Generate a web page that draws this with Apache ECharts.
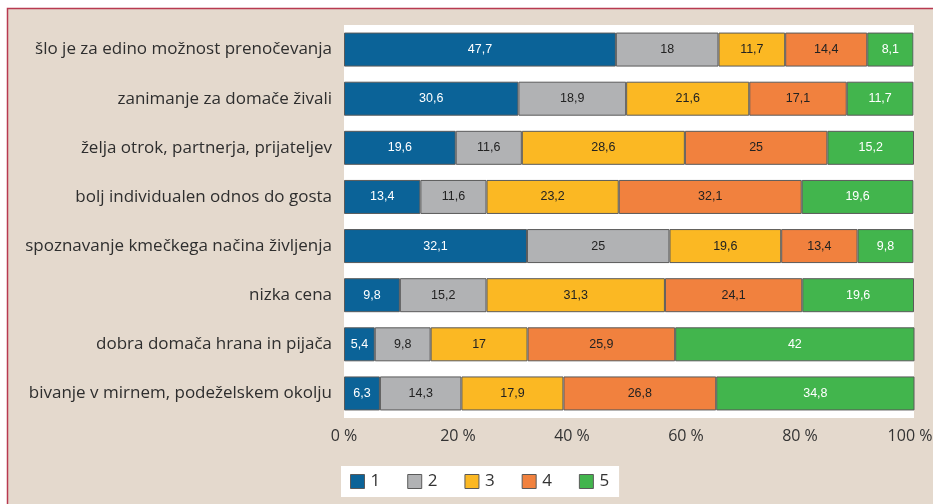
<!DOCTYPE html>
<html>
<head>
<meta charset="utf-8">
<script src="https://cdn.jsdelivr.net/npm/echarts@6/dist/echarts.min.js"></script>
<style>
  html, body { margin: 0; padding: 0; background: #ffffff; }
  #chart { width: 933px; height: 504px; }
</style>
</head>
<body>
<div id="chart"></div>
<script>
// Reasons for choosing the stay, rated 1–5 (share of respondents, %)
const categories = [
  'šlo je za edino možnost prenočevanja',
  'zanimanje za domače živali',
  'želja otrok, partnerja, prijateljev',
  'bolj individualen odnos do gosta',
  'spoznavanje kmečkega načina življenja',
  'nizka cena',
  'dobra domača hrana in pijača',
  'bivanje v mirnem, podeželskem okolju'
];
const seriesNames = ['1', '2', '3', '4', '5'];
const rating1 = [47.7, 30.6, 19.6, 13.4, 32.1, 9.8, 5.4, 6.3];
const rating2 = [18, 18.9, 11.6, 11.6, 25, 15.2, 9.8, 14.3];
const rating3 = [11.7, 21.6, 28.6, 23.2, 19.6, 31.3, 17, 17.9];
const rating4 = [14.4, 17.1, 25, 32.1, 13.4, 24.1, 25.9, 26.8];
const rating5 = [8.1, 11.7, 15.2, 19.6, 9.8, 19.6, 42, 34.8];
const xTicks = [0, 20, 40, 60, 80, 100];

const values = [rating1, rating2, rating3, rating4, rating5];
const colors = ['#0b6398', '#b1b2b4', '#fbb823', '#f1813e', '#42b54d'];
const labelColors = ['#ffffff', '#222222', '#222222', '#222222', '#ffffff'];

const chart = echarts.init(document.getElementById('chart'));

const series = seriesNames.map((name, i) => ({
  name: name,
  type: 'bar',
  stack: 'total',
  barWidth: 34,
  data: values[i],
  itemStyle: { color: colors[i], borderColor: '#5a5a5a', borderWidth: 1 },
  label: {
    show: true,
    position: 'inside',
    fontFamily: 'Liberation Sans, Arial, sans-serif',
    fontSize: 12.5,
    color: labelColors[i],
    formatter: p => String(p.value).replace('.', ',')
  }
}));

const tickFont = { fontFamily: 'Open Sans, sans-serif', fontSize: 16, color: '#333333' };

chart.setOption({
  animation: false,
  backgroundColor: '#ffffff',
  graphic: [{
    type: 'rect',
    z: -10,
    silent: true,
    shape: { x: 7.5, y: 8.5, width: 940, height: 510 },
    style: { fill: '#e4d9cd', stroke: '#b83a50', lineWidth: 1.5 }
  }],
  grid: {
    left: 344, top: 25, width: 570, height: 393,
    outerBoundsMode: 'none',
    containLabel: false,
    show: true, backgroundColor: '#ffffff', borderWidth: 0
  },
  legend: {
    left: 341, top: 466,
    padding: [7, 10, 7, 9],
    backgroundColor: '#ffffff',
    itemWidth: 14, itemHeight: 14, itemGap: 27,
    icon: 'rect',
    textStyle: { fontFamily: 'Open Sans, sans-serif', fontSize: 17, color: '#333333', padding: [0, 0, 0, 1] },
    data: seriesNames.map((n, i) => ({
      name: n,
      itemStyle: { color: colors[i], borderColor: '#5a5a5a', borderWidth: 1 }
    }))
  },
  xAxis: {
    type: 'value',
    min: xTicks[0], max: xTicks[xTicks.length - 1], interval: 20,
    axisLine: { show: false },
    axisTick: { show: false },
    splitLine: { show: false },
    axisLabel: Object.assign({
      margin: 10,
      // keep the last tick label inside the frame
      formatter: v => v === xTicks[xTicks.length - 1] ? '{last|' + v + ' %}' : v + ' %',
      rich: { last: Object.assign({ padding: [0, 8, 0, 0] }, tickFont) }
    }, tickFont)
  },
  yAxis: {
    type: 'category',
    inverse: true,
    data: categories,
    axisLine: { show: false },
    axisTick: { show: false },
    axisLabel: {
      margin: 12,
      fontFamily: 'Open Sans, sans-serif',
      fontSize: 17,
      color: '#2e2e2e'
    }
  },
  series: series
});
</script>
</body>
</html>
